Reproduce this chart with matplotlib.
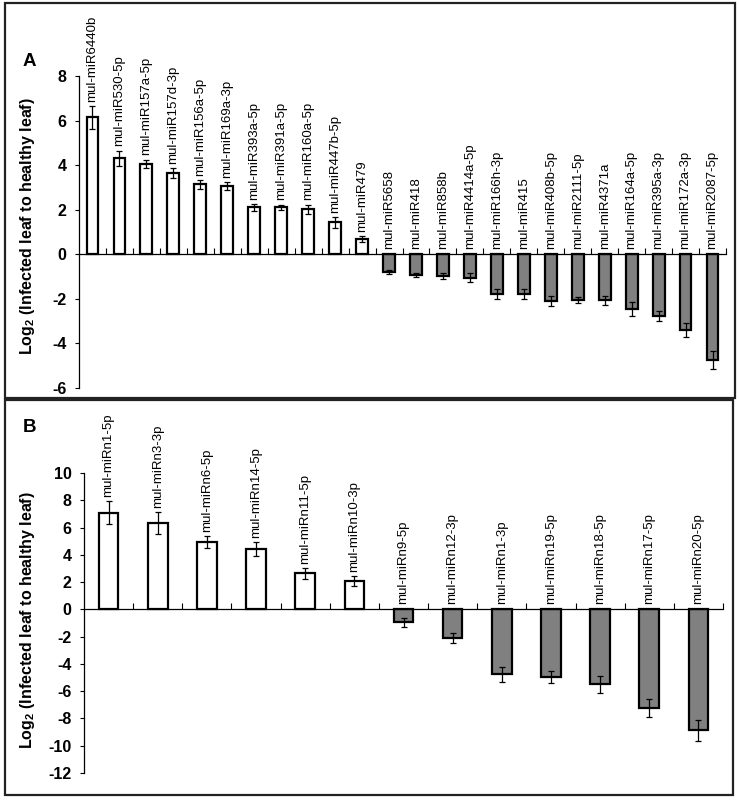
import matplotlib
matplotlib.use("Agg")
import matplotlib.pyplot as plt
from matplotlib.patches import Rectangle
import numpy as np

plt.rcParams['font.family'] = ['Liberation Sans', 'DejaVu Sans']
plt.rcParams['mathtext.default'] = 'regular'

# Panel A data
a_names = ["mul-miR6440b", "mul-miR530-5p", "mul-miR157a-5p", "mul-miR157d-3p",
           "mul-miR156a-5p", "mul-miR169a-3p", "mul-miR393a-5p", "mul-miR391a-5p",
           "mul-miR160a-5p", "mul-miR447b-5p", "mul-miR479", "mul-miR5658",
           "mul-miR418", "mul-miR858b", "mul-miR4414a-5p", "mul-miR166h-3p",
           "mul-miR415", "mul-miR408b-5p", "mul-miR2111-5p", "mul-miR4371a",
           "mul-miR164a-5p", "mul-miR395a-3p", "mul-miR172a-3p", "mul-miR2087-5p"]
a_vals = [6.14, 4.30, 4.05, 3.63, 3.14, 3.06, 2.10, 2.10, 2.03, 1.43, 0.69,
          -0.80, -0.93, -0.99, -1.06, -1.78, -1.78, -2.10, -2.06, -2.07,
          -2.45, -2.78, -3.40, -4.75]
a_err = [0.50, 0.35, 0.20, 0.22, 0.20, 0.17, 0.15, 0.13, 0.20, 0.25, 0.12,
         0.10, 0.10, 0.13, 0.20, 0.24, 0.24, 0.22, 0.13, 0.20,
         0.30, 0.22, 0.30, 0.39]
a_ticks = [-6, -4, -2, 0, 2, 4, 6, 8]

# Panel B data
b_names = ["mul-miRn1-5p", "mul-miRn3-3p", "mul-miRn6-5p", "mul-miRn14-5p",
           "mul-miRn11-5p", "mul-miRn10-3p", "mul-miRn9-5p", "mul-miRn12-3p",
           "mul-miRn1-3p", "mul-miRn19-5p", "mul-miRn18-5p", "mul-miRn17-5p",
           "mul-miRn20-5p"]
b_vals = [7.09, 6.31, 4.94, 4.43, 2.64, 2.08, -0.95, -2.08, -4.77, -4.94,
          -5.50, -7.24, -8.88]
b_err = [0.85, 0.80, 0.46, 0.50, 0.40, 0.35, 0.35, 0.35, 0.55, 0.45,
         0.65, 0.65, 0.80]
b_ticks = [-12, -10, -8, -6, -4, -2, 0, 2, 4, 6, 8, 10]

W, H = 739, 800
fig = plt.figure(figsize=(W / 100, H / 100), dpi=100)

# panel borders
for (x0, y0, x1, y1) in [(5, 3, 735, 398), (5, 400, 733, 795)]:
    fig.add_artist(Rectangle((x0 / W, 1 - y1 / H), (x1 - x0) / W, (y1 - y0) / H,
                             transform=fig.transFigure, fill=False,
                             edgecolor='#222222', linewidth=1.6))


def panel(rect, names, vals, errs, ticks, ylim, width, letter, letter_xy, ylab_xy):
    l, t, r, b = rect
    ax = fig.add_axes([l / W, 1 - b / H, (r - l) / W, (b - t) / H])
    n = len(vals)
    x = np.arange(n) + 0.5
    colors = ['white' if v > 0 else '#808080' for v in vals]
    ax.bar(x, vals, width=width, color=colors, edgecolor='black', linewidth=1.6,
           zorder=2)
    ax.errorbar(x, vals, yerr=errs, fmt='none', ecolor='black', elinewidth=0.9,
                capsize=2.5, capthick=0.9, zorder=3)
    for xi, v, e, nm in zip(x, vals, errs, names):
        base = v + e if v > 0 else 0
        ax.annotate(nm, (xi, base), xytext=(0, 3 if v > 0 else 4),
                    textcoords='offset points', rotation=90, ha='center',
                    va='bottom', fontsize=9.5)
    ax.set_xlim(0, n)
    ax.set_ylim(*ylim)
    ax.set_yticks(ticks)
    ax.set_yticklabels([str(t) for t in ticks], fontweight='bold', fontsize=11.5)
    ax.set_xticks(np.arange(1, n + 1))
    ax.set_xticklabels([])
    ax.tick_params(axis='x', direction='in', length=4, width=0.8)
    ax.tick_params(axis='y', direction='out', length=3, width=0.8, pad=6)
    ax.spines['bottom'].set_position(('data', 0))
    ax.spines['top'].set_visible(False)
    ax.spines['right'].set_visible(False)
    for s in ('left', 'bottom'):
        ax.spines[s].set_linewidth(0.9)
    ax.patch.set_visible(False)
    fig.text(letter_xy[0] / W, 1 - letter_xy[1] / H, letter, fontsize=13.5,
             fontweight='bold', ha='center', va='center')
    fig.text(ylab_xy[0] / W, 1 - ylab_xy[1] / H,
             'Log$_{2}$ (Infected leaf to healthy leaf)', rotation=90,
             fontsize=11.5, fontweight='bold', ha='center', va='center')
    return ax


panel((79, 76, 726, 388), a_names, a_vals, a_err, a_ticks, (-6, 8), 0.44,
      'A', (29, 62), (28, 226))
panel((84, 473, 723, 773), b_names, b_vals, b_err, b_ticks, (-12, 10), 0.40,
      'B', (29, 428), (28, 620))

fig.savefig('out.png', dpi=100)
